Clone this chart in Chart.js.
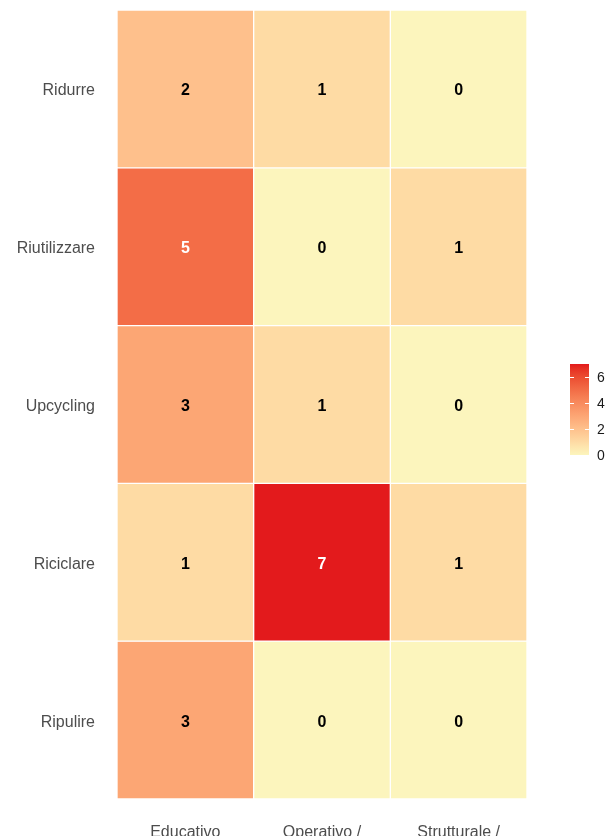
<!DOCTYPE html>
<html>
<head>
<meta charset="utf-8">
<script src="https://cdn.jsdelivr.net/npm/chart.js@4/dist/chart.umd.min.js"></script>
<style>
  html, body { margin: 0; padding: 0; overflow: hidden; background: #fff; }
  #wrap { width: 608px; height: 860px; position: relative; }
</style>
</head>
<body>
<div id="wrap"><canvas id="heatChart"></canvas></div>
<script>
// rows top -> bottom, columns left -> right
const rows = ['Ridurre', 'Riutilizzare', 'Upcycling', 'Riciclare', 'Ripulire'];
const cols = ['Educativo', 'Operativo /', 'Strutturale /'];

const ridurre      = [2, 1, 0];
const riutilizzare = [5, 0, 1];
const upcycling    = [3, 1, 0];
const riciclare    = [1, 7, 1];
const ripulire     = [3, 0, 0];
const counts = [ridurre, riutilizzare, upcycling, riciclare, ripulire];

const legendTicks = [0, 2, 4, 6];

const lowColor = '#FCF5BD';
const highColor = '#E31A1C';
const maxVal = Math.max(...counts.flat());

// colour ramp interpolated in Lab, like ggplot's gradient
function hexRgb(h) {
  return [1, 3, 5].map(i => parseInt(h.substr(i, 2), 16));
}
function toLin(c) { c /= 255; return c <= 0.04045 ? c / 12.92 : Math.pow((c + 0.055) / 1.055, 2.4); }
function fromLin(c) {
  c = c <= 0.0031308 ? 12.92 * c : 1.055 * Math.pow(c, 1 / 2.4) - 0.055;
  return Math.round(Math.max(0, Math.min(1, c)) * 255);
}
function rgbLab(rgb) {
  const [r, g, b] = rgb.map(toLin);
  const x = (0.4124 * r + 0.3576 * g + 0.1805 * b) / 0.95047;
  const y = (0.2126 * r + 0.7152 * g + 0.0722 * b);
  const z = (0.0193 * r + 0.1192 * g + 0.9505 * b) / 1.08883;
  const f = t => t > 0.008856 ? Math.cbrt(t) : 7.787 * t + 16 / 116;
  const fx = f(x), fy = f(y), fz = f(z);
  return [116 * fy - 16, 500 * (fx - fy), 200 * (fy - fz)];
}
function labRgb([L, a, b]) {
  const fy = (L + 16) / 116, fx = fy + a / 500, fz = fy - b / 200;
  const inv = t => t * t * t > 0.008856 ? t * t * t : (t - 16 / 116) / 7.787;
  const x = inv(fx) * 0.95047, y = inv(fy), z = inv(fz) * 1.08883;
  const r = 3.2406 * x - 1.5372 * y - 0.4986 * z;
  const g = -0.9689 * x + 1.8758 * y + 0.0415 * z;
  const bb = 0.0557 * x - 0.2040 * y + 1.0570 * z;
  return [r, g, bb].map(fromLin);
}
const labLow = rgbLab(hexRgb(lowColor));
const labHigh = rgbLab(hexRgb(highColor));
function fillFor(v) {
  const t = v / maxVal;
  const lab = labLow.map((c, i) => c + (labHigh[i] - c) * t);
  const [r, g, b] = labRgb(lab);
  return `rgb(${r},${g},${b})`;
}

const datasets = counts.map((vals, r) => ({
  label: rows[r],
  data: vals.map(() => [r, r + 1]),
  values: vals,
  backgroundColor: vals.map(fillFor),
  borderColor: '#ffffff',
  borderWidth: 1,
  borderSkipped: false,
  barPercentage: 1,
  categoryPercentage: 1,
  grouped: false
}));

const cellLabels = {
  id: 'cellLabels',
  afterDatasetsDraw(chart) {
    const ctx = chart.ctx;
    ctx.save();
    ctx.font = 'bold 16px "Liberation Sans", Arial, sans-serif';
    ctx.textAlign = 'center';
    ctx.textBaseline = 'middle';
    chart.data.datasets.forEach((ds, i) => {
      chart.getDatasetMeta(i).data.forEach((bar, j) => {
        const v = ds.values[j];
        const p = bar.getCenterPoint();
        ctx.fillStyle = v > 4 ? '#ffffff' : '#000000';
        ctx.fillText(String(v), p.x, p.y + 2);
      });
    });
    ctx.restore();
  }
};

const colourBar = {
  id: 'colourBar',
  afterDraw(chart) {
    const ctx = chart.ctx;
    const x0 = 570, w = 19, top = 364, bottom = 455;
    const yOf = v => bottom - (bottom - top) * v / maxVal;
    const grad = ctx.createLinearGradient(0, bottom, 0, top);
    for (let k = 0; k <= 20; k++) grad.addColorStop(k / 20, fillFor(maxVal * k / 20));
    ctx.save();
    ctx.fillStyle = grad;
    ctx.fillRect(x0, top, w, bottom - top);
    ctx.strokeStyle = '#ffffff';
    ctx.lineWidth = 1;
    ctx.font = '14px "Liberation Sans", Arial, sans-serif';
    ctx.fillStyle = '#1a1a1a';
    ctx.textAlign = 'left';
    ctx.textBaseline = 'middle';
    legendTicks.forEach(t => {
      const y = Math.round(yOf(t)) + 0.5;
      if (t > 0) {
        ctx.beginPath();
        ctx.moveTo(x0, y); ctx.lineTo(x0 + 4, y);
        ctx.moveTo(x0 + w - 4, y); ctx.lineTo(x0 + w, y);
        ctx.stroke();
      }
      ctx.fillText(String(t), x0 + w + 8, y + 1);
    });
    ctx.restore();
  }
};

new Chart(document.getElementById('heatChart'), {
  type: 'bar',
  data: { labels: cols, datasets },
  options: {
    responsive: true,
    maintainAspectRatio: false,
    animation: false,
    layout: { padding: { top: 10, right: 81, left: 0, bottom: 0 } },
    plugins: {
      legend: { display: false },
      tooltip: { enabled: false }
    },
    scales: {
      x: {
        grid: { display: false },
        border: { display: false },
        ticks: {
          color: '#4D4D4D',
          font: { family: '"Liberation Sans", Arial, sans-serif', size: 16 },
          padding: 16,
          maxRotation: 0
        },
        afterFit(scale) {
          scale.height = 61;
          scale.paddingLeft = 0;
          scale.paddingRight = 0;
        }
      },
      y: {
        type: 'linear',
        min: 0,
        max: rows.length,
        reverse: true,
        grid: { display: false },
        border: { display: false },
        afterBuildTicks(axis) {
          axis.ticks = rows.map((_, i) => ({ value: i + 0.5 }));
        },
        ticks: {
          color: '#4D4D4D',
          font: { family: '"Liberation Sans", Arial, sans-serif', size: 16 },
          padding: 14,
          labelOffset: 2,
          callback: v => rows[Math.floor(v)]
        },
        afterFit(scale) {
          scale.width = 117;
          scale.paddingTop = 0;
          scale.paddingBottom = 0;
        }
      }
    }
  },
  plugins: [cellLabels, colourBar]
});
</script>
</body>
</html>
